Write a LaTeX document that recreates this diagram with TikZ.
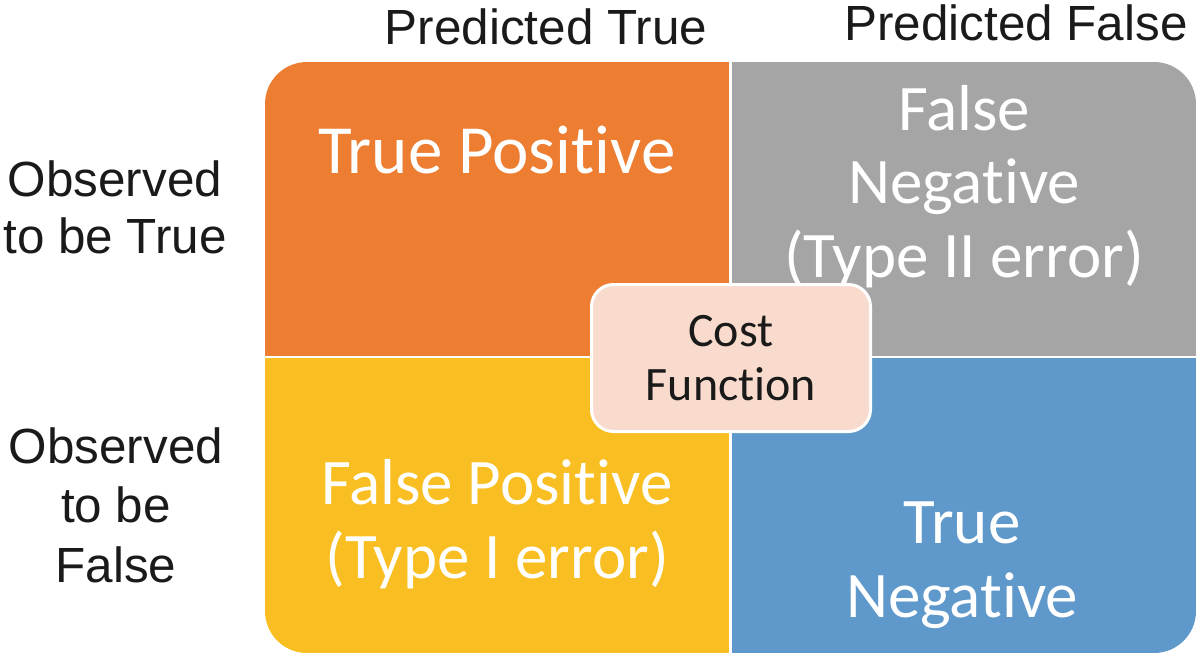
\documentclass[tikz,border=0pt]{standalone}
\usepackage{fontspec}
\setmainfont{Liberation Sans}
\newfontfamily\calfont[Ligatures=NoCommon]{Carlito}
\definecolor{qorange}{HTML}{ED7D31}
\definecolor{qgray}{HTML}{A5A5A5}
\definecolor{qyellow}{HTML}{F9BF22}
\definecolor{qblue}{HTML}{5F99CB}
\definecolor{qpeach}{HTML}{F8DBCC}
\definecolor{qtext}{HTML}{1A1A1A}
\tikzset{
  lab/.style={font=\fontsize{49.4}{57}\selectfont, align=center, inner sep=0pt, anchor=base, text=qtext},
  qtxt/.style={font=\calfont\fontsize{65}{73.5}\selectfont, align=center, inner sep=0pt, anchor=base, text=white},
  costbox/.style={draw=white, line width=3pt, fill=qpeach, rounded corners=22pt,
    minimum width=279pt, minimum height=147pt, inner sep=0pt, align=center,
    font=\calfont\fontsize{48}{54}\selectfont, text=qtext}
}
\begin{document}
\begin{tikzpicture}[x=1pt,y=-1pt]
\useasboundingbox (0,0) rectangle (1200,657);
\fill[white] (0,0) rectangle (1200,657);
\begin{scope}
  \clip[rounded corners=42pt] (265,62) rectangle (1196,653);
  \fill[qorange] (265,62) rectangle (729,356);
  \fill[qgray] (732,62) rectangle (1196,356);
  \fill[qyellow] (265,358) rectangle (729,653);
  \fill[qblue] (732,358) rectangle (1196,653);
\end{scope}
% headers (base anchor = baseline of last line)
\node[lab] (pt) at (546,44) {Predicted True};
\node[lab] (pf) at (1016,40) {Predicted False};
\node[lab] (ot) at (115,253) {Observed\\to be True};
\node[lab, font=\fontsize{49.4}{59.5}\selectfont] (of) at (116,582) {Observed\\to be\\False};
% quadrant texts
\node[qtxt, font=\calfont\fontsize{69}{74}\selectfont] (tp) at (497,173) {True Positive};
\node[qtxt] (fn) at (964,277) {False\\Negative\\(Type II error)};
\node[qtxt] (fp) at (497,578) {False Positive\\(Type I error)};
\node[qtxt, font=\calfont\fontsize{65}{74}\selectfont] (tn) at (962,617) {True\\Negative};
% central cost box
\node[costbox] (cf) at (731,358) {Cost\\Function};
\end{tikzpicture}
\end{document}
